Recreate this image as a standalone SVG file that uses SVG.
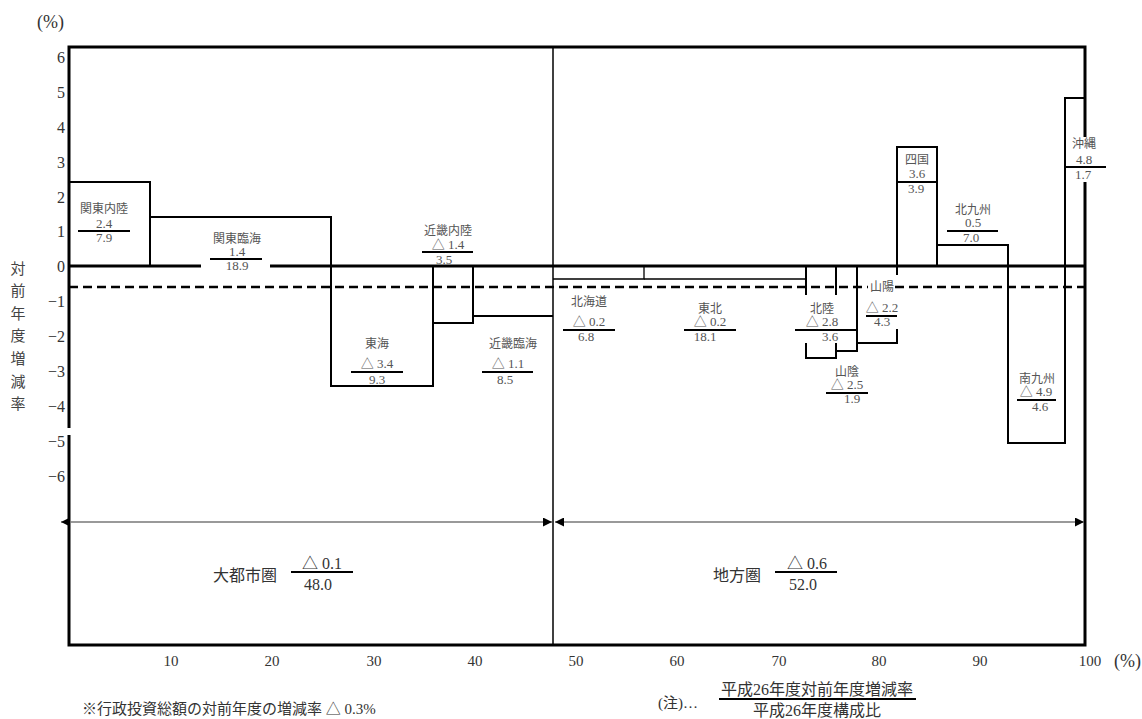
<svg xmlns="http://www.w3.org/2000/svg" width="1142" height="719" viewBox="0 0 1142 719">
<style>
.fr{stroke:#000;stroke-width:3;fill:none}
.bar{stroke:#000;stroke-width:2;fill:none}
.thin{stroke:#000;stroke-width:1.3;fill:none}
.fl{stroke:#000;stroke-width:2}
.zero{stroke:#000;stroke-width:3}
.dash{stroke:#000;stroke-width:2.5;stroke-dasharray:9 5}
.arr{stroke:#777;stroke-width:1.5;fill:none}
.jp{font-family:"Noto Sans CJK JP",sans-serif;font-size:12px;fill:#555;text-anchor:middle}
.num{font-family:"Liberation Serif","Noto Sans CJK JP",serif;font-size:13px;fill:#555;text-anchor:middle}
.ay{font-family:"Liberation Serif",serif;font-size:16px;fill:#333;text-anchor:end}
.ax{font-family:"Liberation Serif",serif;font-size:15px;fill:#333;text-anchor:middle}
.big{font-family:"Noto Sans CJK JP",sans-serif;font-size:16px;fill:#333;text-anchor:middle}
.bnum{font-family:"Liberation Serif","Noto Sans CJK JP",serif;font-size:16px;fill:#333;text-anchor:middle}
.note{font-family:"Liberation Serif","Noto Sans CJK JP",serif;font-size:15px;fill:#333}
.pc{font-family:"Liberation Serif",serif;font-size:18px;fill:#333}
.vt{font-family:"Noto Sans CJK JP",sans-serif;font-size:15px;fill:#444;text-anchor:middle}
</style>
<defs>
<marker id="ah" viewBox="0 0 10 10" refX="10" refY="5" markerWidth="9" markerHeight="9" markerUnits="userSpaceOnUse" orient="auto-start-reverse"><path d="M0,0 L10,5 L0,10 z" fill="#000"/></marker>
</defs>
<rect width="1142" height="719" fill="#fff"/>

<g id="axes">
<path class="fr" d="M69,428 V47 H1085 V137 M1085,182 V645 H69 V435"/>
<path d="M553,47 V645" stroke="#000" stroke-width="1.5"/>
<path class="zero" d="M69,266 H201 M270,266 H1085"/>
<path class="dash" d="M69,287 H868 M895,287 H1085"/>
<text class="pc" x="37" y="28">(%)</text>
<text class="ay" x="65" y="63">6</text>
<text class="ay" x="65" y="98">5</text>
<text class="ay" x="65" y="133">4</text>
<text class="ay" x="65" y="168">3</text>
<text class="ay" x="65" y="203">2</text>
<text class="ay" x="65" y="237">1</text>
<text class="ay" x="65" y="272">0</text>
<text class="ay" x="65" y="307">−1</text>
<text class="ay" x="65" y="342">−2</text>
<text class="ay" x="65" y="377">−3</text>
<text class="ay" x="65" y="412">−4</text>
<text class="ay" x="65" y="447">−5</text>
<text class="ay" x="65" y="482">−6</text>
<text class="vt" x="18" y="274">対</text>
<text class="vt" x="18" y="296">前</text>
<text class="vt" x="18" y="319">年</text>
<text class="vt" x="18" y="341">度</text>
<text class="vt" x="18" y="364">増</text>
<text class="vt" x="18" y="387">減</text>
<text class="vt" x="18" y="409">率</text>
<text class="ax" x="171" y="666">10</text>
<text class="ax" x="272" y="666">20</text>
<text class="ax" x="374" y="666">30</text>
<text class="ax" x="475" y="666">40</text>
<text class="ax" x="576" y="666">50</text>
<text class="ax" x="677" y="666">60</text>
<text class="ax" x="779" y="666">70</text>
<text class="ax" x="879" y="666">80</text>
<text class="ax" x="980" y="666">90</text>
<text class="ax" x="1090" y="666">100</text>
<text class="pc" x="1114" y="667">(%)</text>
</g>

<g id="kanto-nairiku">
<path class="bar" d="M69,182 H150 V266"/>
<text class="jp" x="104" y="213">関東内陸</text>
<text class="num" x="104" y="228">2.4</text>
<path class="fl" d="M78,231 H130"/>
<text class="num" x="104" y="242">7.9</text>
</g>

<g id="kanto-rinkai">
<path class="bar" d="M150,217 H331 V266"/>
<text class="jp" x="237" y="243">関東臨海</text>
<text class="num" x="237" y="256">1.4</text>
<path class="fl" d="M210,259 H262"/>
<text class="num" x="237" y="270">18.9</text>
</g>

<g id="tokai">
<path class="bar" d="M331,266 V386 H433 V266"/>
<text class="jp" x="377" y="348">東海</text>
<text class="num" x="377" y="368">△ 3.4</text>
<path class="fl" d="M351,372 H403"/>
<text class="num" x="377" y="384">9.3</text>
</g>

<g id="kinki-nairiku">
<path class="bar" d="M433,323 H473 V266"/>
<text class="jp" x="448" y="235">近畿内陸</text>
<text class="num" x="448" y="249">△ 1.4</text>
<path class="fl" d="M422,252 H473"/>
<text class="num" x="444" y="264">3.5</text>
</g>

<g id="kinki-rinkai">
<path class="bar" d="M473,316 H553"/>
<text class="jp" x="513" y="348">近畿臨海</text>
<text class="num" x="508" y="368">△ 1.1</text>
<path class="fl" d="M482,372 H533"/>
<text class="num" x="505" y="384">8.5</text>
</g>

<g id="hokkaido">
<path class="thin" d="M553,279 H644 V266"/>
<text class="jp" x="589" y="306">北海道</text>
<text class="num" x="589" y="326">△ 0.2</text>
<path class="fl" d="M563,330 H615"/>
<text class="num" x="586" y="341">6.8</text>
</g>

<g id="tohoku">
<path class="thin" d="M644,279 H806"/>
<text class="jp" x="710" y="313">東北</text>
<text class="num" x="710" y="326">△ 0.2</text>
<path class="fl" d="M684,330 H736"/>
<text class="num" x="705" y="341">18.1</text>
</g>

<g id="hokuriku">
<path class="bar" d="M806,266 V295 M806,343 V358 H836 V343 M836,295 V266"/>
<text class="jp" x="822" y="313">北陸</text>
<text class="num" x="822" y="326">△ 2.8</text>
<path class="fl" d="M795,330 H857"/>
<text class="num" x="830" y="341">3.6</text>
</g>

<g id="sanin">
<path class="bar" d="M836,351 H857 V266"/>
<text class="jp" x="847" y="376">山陰</text>
<text class="num" x="847" y="389">△ 2.5</text>
<path class="fl" d="M826,393 H868"/>
<text class="num" x="852" y="403">1.9</text>
</g>

<g id="sanyo">
<path class="bar" d="M857,343 H897 V329 M897,275 V266"/>
<text class="jp" x="882" y="291">山陽</text>
<text class="num" x="882" y="312">△ 2.2</text>
<path class="fl" d="M866,316 H897"/>
<text class="num" x="882" y="326">4.3</text>
</g>

<g id="shikoku">
<path class="bar" d="M897,275 V147 H937 V266"/>
<text class="jp" x="917" y="164">四国</text>
<text class="num" x="917" y="178">3.6</text>
<path class="fl" d="M897,182 H937"/>
<text class="num" x="916" y="193">3.9</text>
</g>

<g id="kita-kyushu">
<path class="bar" d="M937,245 H1008 V266"/>
<text class="jp" x="973" y="214">北九州</text>
<text class="num" x="973" y="227">0.5</text>
<path class="fl" d="M947,231 H998"/>
<text class="num" x="971" y="242">7.0</text>
</g>

<g id="minami-kyushu">
<path class="bar" d="M1008,266 V443 H1065 V266"/>
<text class="jp" x="1037" y="383">南九州</text>
<text class="num" x="1036" y="396">△ 4.9</text>
<path class="fl" d="M1017,400 H1056"/>
<text class="num" x="1040" y="411">4.6</text>
</g>

<g id="okinawa">
<path class="bar" d="M1065,266 V98 H1085"/>
<text class="jp" x="1084" y="148">沖縄</text>
<text class="num" x="1084" y="164">4.8</text>
<path class="fl" d="M1065,167 H1106"/>
<text class="num" x="1083" y="179">1.7</text>
</g>

<g id="daitoshiken">
<text class="big" x="245" y="581">大都市圏</text>
<text class="bnum" x="322" y="569">△ 0.1</text>
<path class="fl" d="M291,572 H353"/>
<text class="bnum" x="318" y="590">48.0</text>
</g>

<g id="chihoken">
<text class="big" x="737" y="581">地方圏</text>
<text class="bnum" x="807" y="569">△ 0.6</text>
<path class="fl" d="M775,572 H837"/>
<text class="bnum" x="803" y="590">52.0</text>
</g>

<g id="connectors">
<path class="arr" d="M61,522 H552" marker-start="url(#ah)" marker-end="url(#ah)"/>
<path class="arr" d="M555,522 H1084" marker-start="url(#ah)" marker-end="url(#ah)"/>
</g>

<g id="notes">
<text class="note" x="82" y="714">※行政投資総額の対前年度の増減率 △ 0.3%</text>
<text class="note" x="658" y="708">(注)…</text>
<text class="bnum" x="817" y="695">平成26年度対前年度増減率</text>
<path class="fl" d="M719,699 H916"/>
<text class="bnum" x="817" y="716">平成26年度構成比</text>
</g>
</svg>
